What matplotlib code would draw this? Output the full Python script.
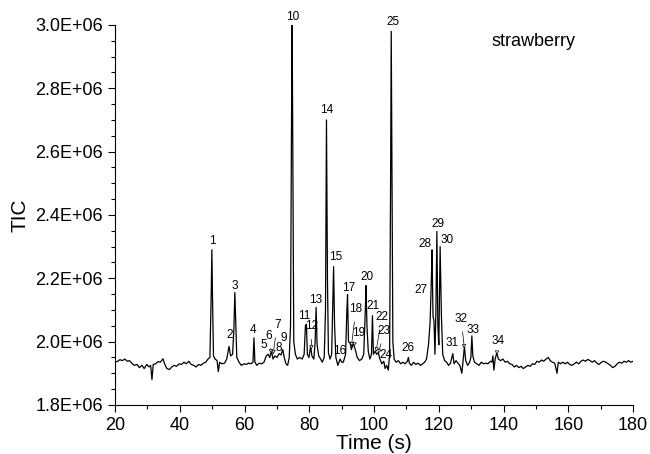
import matplotlib
matplotlib.use("Agg")
import matplotlib.pyplot as plt
from matplotlib.ticker import FuncFormatter, MultipleLocator

plt.rcParams['font.family'] = ['Liberation Sans', 'DejaVu Sans']

# trace: time (s) and TIC (x 1E6)
time_s = [
    20.0, 20.8, 21.5, 22.3, 23.0, 23.8, 24.5, 25.3, 26.0, 26.8, 27.5, 28.3, 29.0, 29.8,
    30.5, 31.0, 31.4, 31.8, 32.5, 33.3, 34.0, 34.8, 35.3, 36.0, 36.8, 37.5, 38.3, 39.0,
    39.8, 40.5, 41.3, 42.0, 42.8, 43.5, 44.3, 45.0, 45.8, 46.5, 47.3, 48.0, 48.7, 49.3,
    49.7, 49.9, 50.1, 50.4, 50.9, 51.5, 51.9, 52.3, 53.0, 53.8, 54.5, 55.2, 55.7, 56.3,
    56.7, 57.0, 57.3, 57.6, 58.3, 59.0, 59.8, 60.5, 61.3, 62.0, 62.6, 62.9, 63.2, 63.8,
    64.5, 65.3, 66.0, 66.7, 67.3, 67.8, 68.3, 68.8, 69.4, 70.0, 70.7, 71.3, 71.8, 72.3,
    72.8, 73.3, 73.8, 74.2, 74.5, 74.7, 74.9, 75.2, 75.7, 76.3, 77.0, 77.8, 78.4, 78.8,
    79.1, 79.4, 79.9, 80.4, 80.8, 81.4, 81.8, 82.1, 82.4, 82.9, 83.5, 84.0, 84.6, 85.0,
    85.3, 85.6, 85.9, 86.4, 86.9, 87.3, 87.5, 87.8, 88.2, 88.8, 89.5, 90.0, 90.5, 91.2,
    91.6, 91.8, 92.1, 92.6, 93.0, 93.6, 94.2, 94.8, 95.5, 96.2, 96.8, 97.3, 97.5, 97.8,
    98.2, 98.7, 99.2, 99.5, 99.8, 100.3, 100.8, 101.3, 101.8, 102.4, 103.0, 103.4, 103.9,
    104.4, 104.8, 105.1, 105.3, 105.5, 105.8, 106.2, 106.8, 107.5, 108.2, 108.9, 109.6,
    110.3, 110.6, 110.9, 111.5, 112.2, 112.9, 113.6, 114.3, 115.0, 115.6, 116.2, 116.8,
    117.3, 117.7, 117.9, 118.2, 118.5, 118.8, 119.1, 119.4, 119.7, 120.0, 120.4, 120.8,
    121.2, 121.8, 122.4, 123.0, 123.6, 124.3, 124.7, 125.3, 125.9, 126.5, 127.1, 127.5,
    127.9, 128.3, 128.9, 129.5, 129.9, 130.2, 130.5, 131.0, 131.7, 132.4, 133.1, 133.8,
    134.5, 135.2, 135.9, 136.4, 136.7, 137.0, 137.4, 137.9, 138.4, 139.1, 139.8, 140.5,
    141.2, 141.9, 142.6, 143.3, 144.0, 144.7, 145.4, 146.1, 146.8, 147.5, 148.2, 148.9,
    149.6, 150.3, 151.0, 151.7, 152.4, 153.1, 153.8, 154.4, 155.1, 155.8, 156.5, 156.9,
    157.6, 158.3, 159.0, 159.7, 160.4, 161.1, 161.8, 162.5, 163.2, 163.9, 164.6, 165.3,
    166.0, 166.7, 167.4, 168.1, 168.8, 169.5, 170.2, 170.9, 171.6, 172.3, 173.0, 173.7,
    174.4, 175.1, 175.8, 176.5, 177.2, 177.9, 178.6, 179.3, 180.0,
]
tic = [
    1.935, 1.938, 1.943, 1.940, 1.945, 1.938, 1.940, 1.930, 1.925, 1.928, 1.918, 1.925, 1.915, 1.928,
    1.920, 1.925, 1.880, 1.928, 1.930, 1.937, 1.935, 1.946, 1.930, 1.915, 1.912, 1.920, 1.925, 1.922,
    1.930, 1.928, 1.935, 1.930, 1.938, 1.928, 1.925, 1.920, 1.928, 1.925, 1.932, 1.935, 1.945, 1.950,
    2.150, 2.290, 2.140, 1.955, 1.945, 1.940, 1.905, 1.935, 1.930, 1.932, 1.945, 1.985, 1.955, 1.960,
    2.040, 2.155, 2.050, 1.950, 1.935, 1.925, 1.930, 1.928, 1.932, 1.930, 1.935, 2.012, 1.935, 1.925,
    1.932, 1.930, 1.935, 1.955, 1.960, 1.950, 1.970, 1.945, 1.955, 1.950, 1.962, 1.958, 1.975, 1.948,
    1.930, 1.925, 1.950, 2.050, 2.700, 3.000, 2.600, 2.000, 1.960, 1.945, 1.950, 1.945, 1.960, 2.050,
    2.055, 1.960, 1.950, 1.985, 1.955, 1.945, 2.000, 2.108, 1.990, 1.955, 1.945, 1.935, 1.950, 2.100,
    2.700, 2.200, 1.965, 1.945, 1.960, 2.150, 2.237, 2.050, 1.950, 1.925, 1.945, 1.935, 1.935, 1.960,
    2.100, 2.148, 2.000, 1.995, 1.975, 1.995, 1.975, 1.950, 1.940, 1.945, 1.960, 2.100, 2.177, 2.050,
    1.970, 1.945, 1.960, 2.082, 1.960, 1.970, 1.960, 1.965, 1.945, 1.930, 1.938, 1.915, 1.925,
    1.910, 1.960, 2.500, 2.980, 2.600, 2.000, 1.945, 1.935, 1.940, 1.930, 1.935, 1.930,
    1.938, 1.950, 1.932, 1.925, 1.935, 1.928, 1.932, 1.925, 1.930, 1.935, 1.945, 1.990,
    2.060, 2.200, 2.290, 2.080, 2.065, 1.960, 2.100, 2.348, 2.050, 1.990, 2.300, 2.080,
    1.960, 1.940, 1.935, 1.925, 1.932, 1.962, 1.930, 1.940, 1.932, 1.925, 1.900, 1.940,
    1.985, 1.940, 1.925, 1.935, 1.950, 2.018, 1.955, 1.935, 1.930, 1.925, 1.935, 1.930,
    1.932, 1.930, 1.938, 1.935, 1.955, 1.910, 1.945, 1.965, 1.945, 1.940, 1.945, 1.935,
    1.938, 1.930, 1.928, 1.920, 1.925, 1.918, 1.922, 1.915, 1.920, 1.925, 1.922, 1.930,
    1.928, 1.938, 1.935, 1.942, 1.938, 1.945, 1.950, 1.940, 1.935, 1.932, 1.900, 1.935,
    1.930, 1.935, 1.930, 1.935, 1.928, 1.925, 1.930, 1.935, 1.930, 1.938, 1.942, 1.938,
    1.944, 1.940, 1.935, 1.940, 1.932, 1.928, 1.935, 1.938, 1.935, 1.930, 1.925, 1.918,
    1.922, 1.930, 1.935, 1.932, 1.938, 1.935, 1.940, 1.935, 1.938,
]

# peak numbers: label position (t, TIC) and, for some, the point the leader goes to
peak_ids = [str(i) for i in range(1, 35)]
label_t = [49.9, 55.3, 57.1, 62.7, 65.8, 67.4, 70.1, 70.6, 72.2, 74.9, 78.5, 80.8, 82.0, 85.4,
           88.0, 89.5, 92.3, 94.4, 95.2, 97.7, 99.8, 102.4, 103.2, 103.6, 105.8, 110.6, 114.4,
           115.8, 119.6, 122.4, 124.0, 126.9, 130.5, 138.2]
label_tic = [2.317, 2.022, 2.177, 2.037, 1.988, 2.019, 2.053, 1.979, 2.011, 3.024, 2.082, 2.048,
             2.132, 2.730, 2.267, 1.972, 2.169, 2.103, 2.027, 2.203, 2.113, 2.078, 2.034, 1.958,
             3.010, 1.979, 2.164, 2.309, 2.370, 2.322, 1.995, 2.072, 2.037, 2.003]
leaders = {
    '6': (68.3, 1.962), '7': (68.8, 1.960), '12': (80.6, 1.975), '18': (93.0, 1.985),
    '19': (93.6, 1.985), '22': (100.6, 1.968), '23': (101.3, 1.962), '32': (127.9, 1.978),
    '34': (137.9, 1.958),
}

fig = plt.figure(figsize=(6.5, 4.54), dpi=100)
ax = fig.add_axes([0.177, 0.108, 0.797, 0.837])

ax.plot(time_s, tic, color='black', lw=0.9)

for pid, lt, lv in zip(peak_ids, label_t, label_tic):
    if pid in leaders:
        ax.annotate(pid, xy=leaders[pid], xytext=(lt, lv), fontsize=8.5, ha='center', va='center',
                    arrowprops=dict(arrowstyle='-|>', lw=0.5, color='black', fc='white',
                                    mutation_scale=6, shrinkA=3, shrinkB=0))
    else:
        ax.text(lt, lv, pid, fontsize=8.5, ha='center', va='center', clip_on=False)

ax.text(149.2, 2.947, 'strawberry', fontsize=13, ha='center', va='center')

ax.set_xlim(20, 180)
ax.set_ylim(1.8, 3.0)
ax.xaxis.set_major_locator(MultipleLocator(20))
ax.xaxis.set_minor_locator(MultipleLocator(10))
ax.yaxis.set_major_locator(MultipleLocator(0.2))
ax.yaxis.set_minor_locator(MultipleLocator(0.05))
ax.yaxis.set_major_formatter(FuncFormatter(lambda v, p: f"{v * 1e6:.1E}"))

for side in ['top', 'right']:
    ax.spines[side].set_visible(False)
ax.tick_params(which='major', length=5, width=0.8, labelsize=13)
ax.tick_params(which='minor', length=3, width=0.8)

ax.set_xlabel('Time (s)', fontsize=15, labelpad=0)
ax.set_ylabel('TIC', fontsize=15, labelpad=4)

fig.savefig('out.png', dpi=100)
